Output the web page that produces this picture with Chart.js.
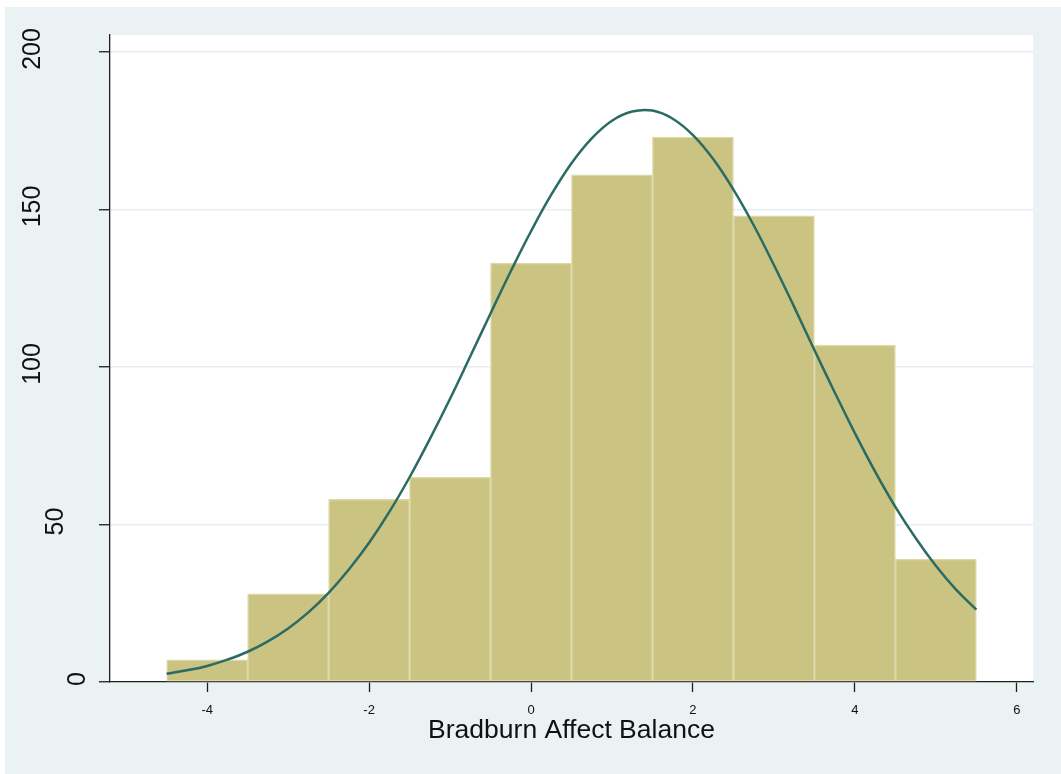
<!DOCTYPE html>
<html>
<head>
<meta charset="utf-8">
<title>Bradburn Affect Balance</title>
<script src="https://cdn.jsdelivr.net/npm/chart.js@4.4.1/dist/chart.umd.min.js"></script>
<style>
  html, body { margin: 0; padding: 0; background: #ffffff; }
  #wrap { width: 1061px; height: 774px; }
</style>
</head>
<body>
<div id="wrap"><canvas id="histChart" width="1061" height="774"></canvas></div>
<script>
// Histogram bins (width 1) and counts
const binCenters = [-4, -3, -2, -1, 0, 1, 2, 3, 4, 5];
const frequencies = [7, 28, 58, 65, 133, 161, 173, 148, 107, 39];

// Normal density overlay
const curveX = [-4.5, -4.25, -4, -3.75, -3.5, -3.25, -3, -2.75, -2.5, -2.25, -2, -1.75, -1.5, -1.25, -1, -0.75, -0.5, -0.25,
  0, 0.25, 0.5, 0.75, 1, 1.25, 1.5, 1.75, 2, 2.25, 2.5, 2.75, 3, 3.25, 3.5, 3.75, 4, 4.25, 4.5, 4.75, 5, 5.25, 5.5];
const curveY = [2.6, 3.7, 5.1, 7.1, 9.6, 12.9, 17.0, 22.1, 28.3, 35.7, 44.2, 54.0, 65.0, 77.1, 89.9, 103.4, 117.0, 130.4,
  143.1, 154.7, 164.7, 172.6, 178.2, 181.1, 181.4, 178.8, 173.6, 166.0, 156.3, 145.0, 132.4, 119.1, 105.4, 92.0, 79.0, 66.8, 55.6, 45.7, 36.9, 29.3, 23.0];

// Axis ticks and title
const xTicks = [-4, -2, 0, 2, 4, 6];
const yTicks = [0, 50, 100, 150, 200];
const xTitle = 'Bradburn Affect Balance';

const FONT = '"Liberation Sans", Arial, sans-serif';
const BG = '#eaf2f3';
const AXIS = '#1e1e1e';

// Stata-like background: white edge, light blue panel, white plot region
const backgroundPlugin = {
  id: 'stataBackground',
  beforeDraw(chart) {
    const { ctx, chartArea } = chart;
    ctx.save();
    ctx.fillStyle = '#ffffff';
    ctx.fillRect(0, 0, chart.width, chart.height);
    ctx.fillStyle = BG;
    ctx.fillRect(5, 7, chart.width - 5, chart.height - 7);
    ctx.fillStyle = '#ffffff';
    ctx.fillRect(chartArea.left, chartArea.top, chartArea.right - chartArea.left, chartArea.bottom - chartArea.top);
    ctx.restore();
  }
};

// Rotated y tick labels (reading upwards), staggered like the original
const yLabelPlugin = {
  id: 'yLabels',
  afterDraw(chart) {
    const { ctx } = chart;
    const yScale = chart.scales.y;
    ctx.save();
    ctx.fillStyle = '#111111';
    ctx.font = '25px ' + FONT;
    ctx.textAlign = 'center';
    ctx.textBaseline = 'middle';
    yTicks.forEach(v => {
      const label = String(v);
      const py = yScale.getPixelForValue(v) - 3;
      const px = 101 - 22.5 * label.length;
      ctx.save();
      ctx.translate(px, py);
      ctx.rotate(-Math.PI / 2);
      ctx.fillText(label, 0, 0);
      ctx.restore();
    });
    ctx.restore();
  }
};

const ctx = document.getElementById('histChart').getContext('2d');
new Chart(ctx, {
  type: 'bar',
  data: {
    datasets: [
      {
        type: 'line',
        label: 'normal',
        data: curveX.map((x, i) => ({ x: x, y: curveY[i] })),
        borderColor: '#2a6b63',
        borderWidth: 2.5,
        pointRadius: 0,
        tension: 0.4,
        fill: false,
        order: 0
      },
      {
        type: 'bar',
        label: 'Frequency',
        data: binCenters.map((x, i) => ({ x: x, y: frequencies[i] })),
        backgroundColor: '#cbc382',
        borderColor: '#dcd7a4',
        borderWidth: 1.5,
        borderSkipped: false,
        barPercentage: 1,
        categoryPercentage: 1,
        order: 1
      }
    ]
  },
  options: {
    responsive: false,
    animation: false,
    layout: { padding: { left: 0, right: 28, top: 35, bottom: 0 } },
    plugins: {
      legend: { display: false },
      tooltip: { enabled: false }
    },
    scales: {
      x: {
        type: 'linear',
        min: -5.2,
        max: 6.2,
        offset: false,
        afterBuildTicks: s => { s.ticks = xTicks.map(v => ({ value: v })); },
        afterFit: s => { s.height = 92; },
        grid: { offset: false, drawOnChartArea: false, drawTicks: true, tickLength: 10, tickColor: AXIS, tickWidth: 1.3 },
        border: { color: AXIS, width: 1.3 },
        ticks: {
          maxRotation: 0,
          autoSkip: false,
          padding: 11,
          color: '#111111',
          font: { family: FONT, size: 13 }
        },
        title: {
          display: true,
          text: xTitle,
          color: '#111111',
          font: { family: FONT, size: 26.5 },
          padding: { top: 0, bottom: 27 }
        }
      },
      y: {
        min: 0,
        max: 205.4,
        afterBuildTicks: s => { s.ticks = yTicks.map(v => ({ value: v })); },
        afterFit: s => { s.width = 110; },
        grid: { color: '#e4eef0', lineWidth: 1.5, drawTicks: true, tickLength: 11, tickColor: AXIS, tickWidth: 1.3 },
        border: { color: AXIS, width: 1.3 },
        ticks: { display: false }
      }
    }
  },
  plugins: [backgroundPlugin, yLabelPlugin]
});
</script>
</body>
</html>
